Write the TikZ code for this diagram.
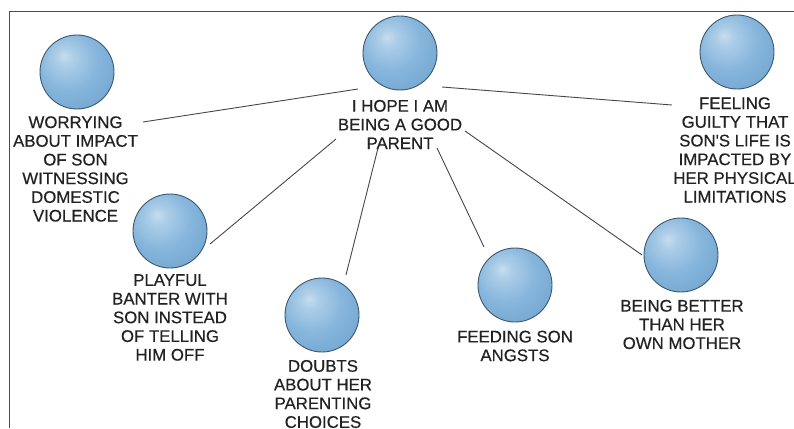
\documentclass[tikz,border=0pt]{standalone}
\usepackage{fontspec}
\setmainfont{Liberation Sans}
\newfontfamily\capfont{Liberation Sans}[FakeBold=0.5]
\definecolor{sphhi}{HTML}{C6DDEE}
\definecolor{sphmid}{HTML}{86B6DC}
\definecolor{sphlo}{HTML}{6C9FCB}
\definecolor{sphrim}{HTML}{4B7BA5}
\definecolor{sphline}{HTML}{3B5870}
\definecolor{ink}{HTML}{222222}
\definecolor{wire}{HTML}{464646}
\pgfdeclareradialshading{sphere}{\pgfpoint{-9bp}{11bp}}{%
  color(0bp)=(sphhi); color(6bp)=(sphhi!60!sphmid); color(20bp)=(sphmid);
  color(42bp)=(sphlo); color(56bp)=(sphrim); color(70bp)=(sphrim)}
\tikzset{
  ball/.style={circle, minimum size=74pt, inner sep=0pt, shading=sphere,
    draw=sphline, line width=0.9pt},
  caption/.style={align=center, inner sep=0pt, text=ink,
    font=\capfont\fontsize{16.8pt}{18.7pt}\selectfont},
  link/.style={draw=wire, line width=0.9pt},
  frame/.style={draw=black!70, line width=1pt}
}
\begin{document}
\begin{tikzpicture}[x=1pt, y=-1pt]
\useasboundingbox (0,0) rectangle (794,428);
% open frame: top and left edges
\coordinate (fr-tr) at (794,12);
\coordinate (fr-tl) at (9,12);
\coordinate (fr-bl) at (9,428);
\draw[frame] (fr-tr) -- (fr-tl) -- (fr-bl);

% spheres
\node[ball] (hub)      at (400,53)  {};
\node[ball] (worry)    at (77,72)   {};
\node[ball] (guilt)    at (737,52)  {};
\node[ball] (playful)  at (170,231) {};
\node[ball] (doubts)   at (322,315) {};
\node[ball] (feeding)  at (515,285) {};
\node[ball] (better)   at (681,255) {};

% captions
\node[caption] (hub-t)     at (400,124.5) {I HOPE I AM\\BEING A GOOD\\PARENT};
\node[caption] (worry-t)   at (75.5,169)  {WORRYING\\ABOUT IMPACT\\OF SON\\WITNESSING\\DOMESTIC\\VIOLENCE};
\node[caption] (guilt-t)   at (735,150)   {FEELING\\GUILTY THAT\\SON'S LIFE IS\\IMPACTED BY\\HER PHYSICAL\\LIMITATIONS};
\node[caption] (playful-t) at (170,317.5) {PLAYFUL\\BANTER WITH\\SON INSTEAD\\OF TELLING\\HIM OFF};
\node[caption] (doubts-t)  at (323,394)   {DOUBTS\\ABOUT HER\\PARENTING\\CHOICES};
\node[caption] (feeding-t) at (515,346)   {FEEDING SON\\ANGSTS};
\node[caption] (better-t)  at (682,324.5) {BEING BETTER\\THAN HER\\OWN MOTHER};

% connector end points
\coordinate (h-w)  at (358,89);
\coordinate (h-e)  at (442,87);
\coordinate (h-sw) at (336,139);
\coordinate (h-s1) at (378,148);
\coordinate (h-s2) at (437,148);
\coordinate (h-se) at (465,131);
\coordinate (worry-e)  at (143,122);
\coordinate (guilt-w)  at (672,105);
\coordinate (playful-e) at (210,244);
\coordinate (doubts-n) at (346,275);
\coordinate (feeding-n) at (484,247);
\coordinate (better-w) at (642,255);

% connectors
\draw[link] (h-w)  -- (worry-e);
\draw[link] (h-e)  -- (guilt-w);
\draw[link] (h-sw) -- (playful-e);
\draw[link] (h-s1) -- (doubts-n);
\draw[link] (h-s2) -- (feeding-n);
\draw[link] (h-se) -- (better-w);
\end{tikzpicture}
\end{document}
